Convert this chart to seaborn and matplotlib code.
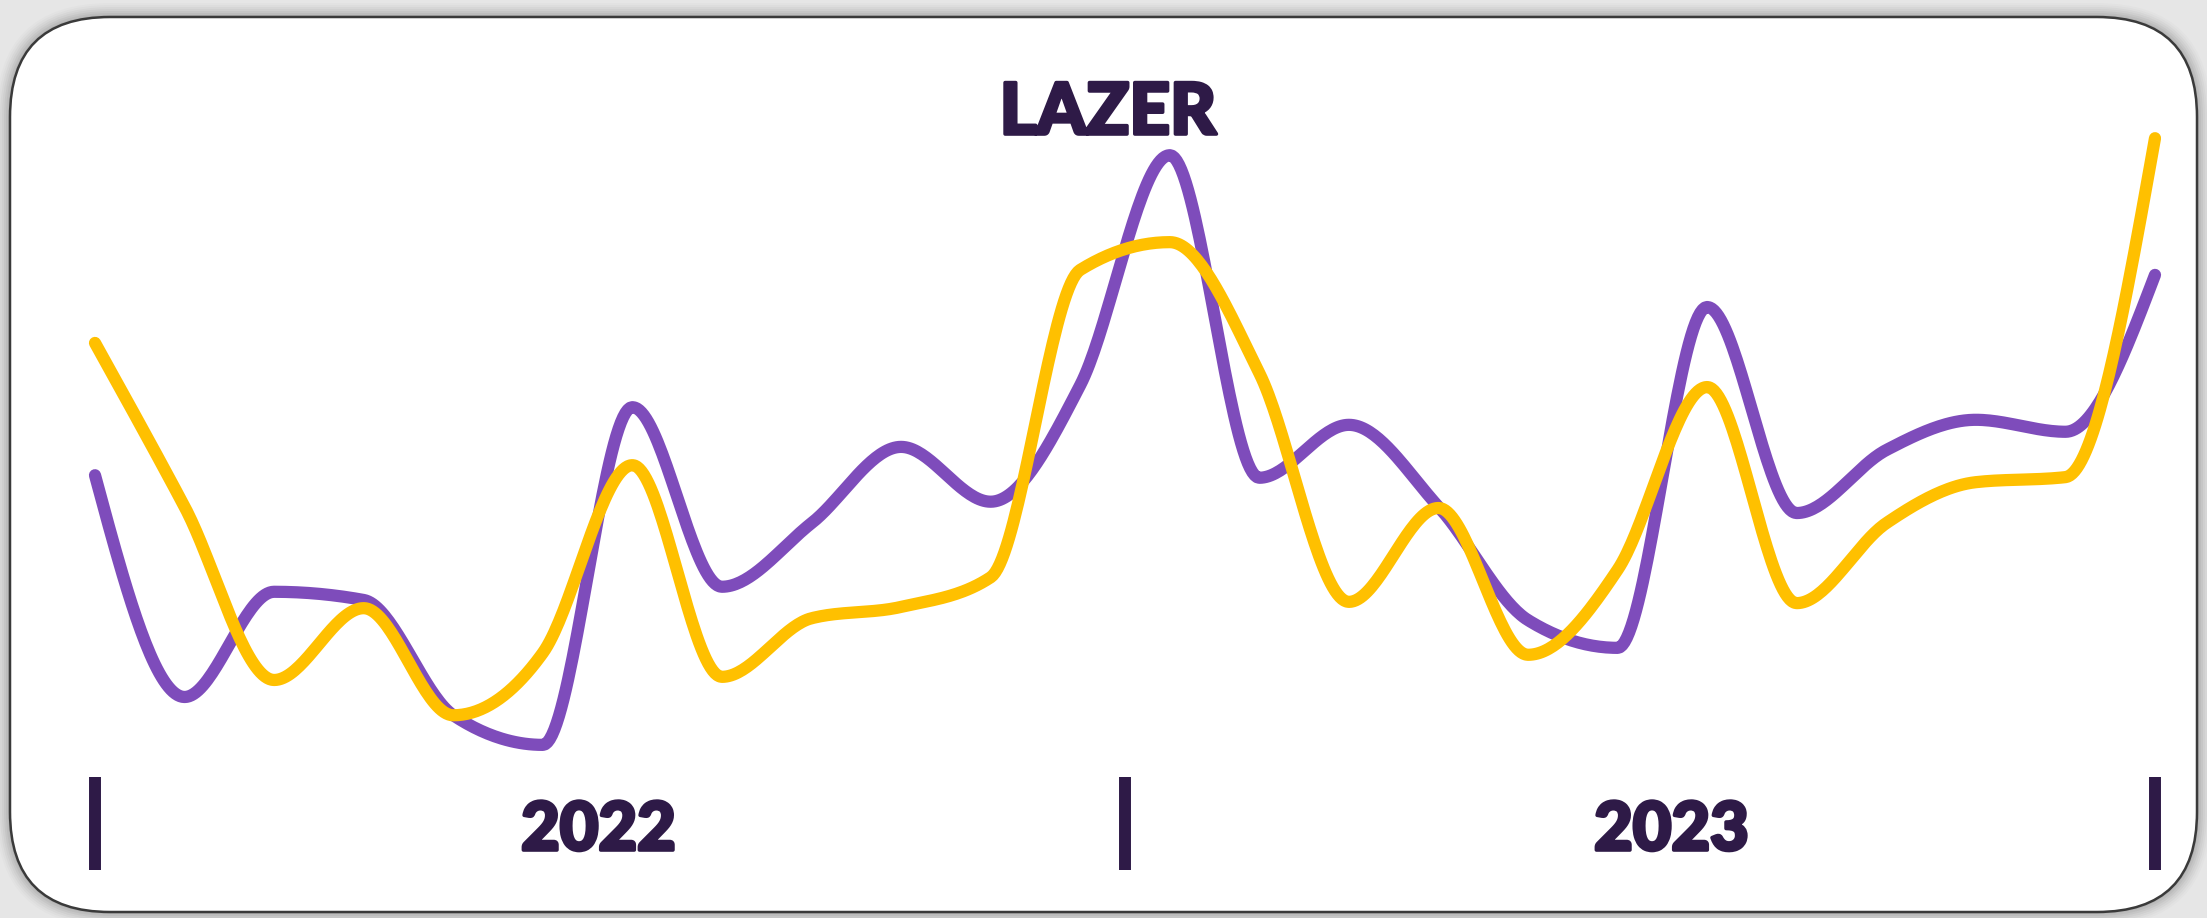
"""Lazer trend card."""

import matplotlib

matplotlib.use("Agg")
import matplotlib.patheffects as pe
import matplotlib.pyplot as plt
import numpy as np
import pandas as pd
import seaborn as sns
from matplotlib.patches import FancyBboxPatch
from matplotlib.transforms import IdentityTransform

TITLE = "LAZER"
YEAR_LABELS = ["2022", "2023"]
MONTHS = pd.date_range("2022-01-01", periods=24, freq="MS")

# values (arbitrary index, no y axis shown)
purple_vals = [45.2, 10.0, 26.7, 25.4, 7.1, 2.4, 56.0, 27.5, 37.6, 49.7, 41.0, 59.5,
               96.0, 44.8, 53.2, 40.2, 22.2, 17.8, 71.9, 39.2, 49.2, 54.0, 52.1, 77.0]
yellow_vals = [66.2, 40.2, 12.7, 24.1, 7.1, 17.0, 46.8, 13.2, 22.5, 24.3, 29.0, 77.8,
               82.2, 61.4, 25.1, 40.0, 16.7, 30.2, 59.2, 24.9, 37.6, 44.1, 44.9, 98.7]

PURPLE = "#7E4CBB"
YELLOW = "#FFC000"
DARK = "#2E1A47"

W, H, DPI = 2207, 918, 100


def monotone_x(x, y, n=40):
    """Monotone cubic interpolation (same rule as d3 curveMonotoneX)."""
    x = np.asarray(x, float)
    y = np.asarray(y, float)
    h = np.diff(x)
    s = np.diff(y) / h
    t = np.zeros_like(y)
    for i in range(1, len(x) - 1):
        p = (s[i - 1] * h[i] + s[i] * h[i - 1]) / (h[i - 1] + h[i])
        t[i] = (np.sign(s[i - 1]) + np.sign(s[i])) * min(abs(s[i - 1]), abs(s[i]), 0.5 * abs(p))
    t[0] = (3 * s[0] - t[1]) / 2
    t[-1] = (3 * s[-1] - t[-2]) / 2
    xs, ys = [], []
    u = np.linspace(0, 1, n)
    for i in range(len(x) - 1):
        h00 = 2 * u**3 - 3 * u**2 + 1
        h10 = u**3 - 2 * u**2 + u
        h01 = -2 * u**3 + 3 * u**2
        h11 = u**3 - u**2
        xs.append(x[i] + u * h[i])
        ys.append(h00 * y[i] + h10 * h[i] * t[i] + h01 * y[i + 1] + h11 * h[i] * t[i + 1])
    return np.concatenate(xs), np.concatenate(ys)


sns.set_theme(style="white")
plt.rcParams["font.family"] = ["Lato", "DejaVu Sans"]

fig = plt.figure(figsize=(W / DPI, H / DPI), dpi=DPI)
fig.patch.set_facecolor("#e6e6e6")

# card: soft shadow + white rounded box (pixel coordinates)
for k, a in zip(range(14, 0, -2), np.linspace(0.015, 0.05, 7)):
    fig.patches.append(FancyBboxPatch(
        (10 - k, 6 - k), 2187 + 2 * k, 895 + 2 * k,
        boxstyle=f"round,pad=0,rounding_size={100 + k}",
        transform=IdentityTransform(), facecolor="black", edgecolor="none",
        alpha=a, zorder=0))
fig.patches.append(FancyBboxPatch(
    (10, 6), 2187, 895, boxstyle="round,pad=0,rounding_size=100",
    transform=IdentityTransform(), facecolor="white", edgecolor="#3a3a3a",
    linewidth=1.8, zorder=1))

ax = fig.add_axes([0, 0, 1, 1])
ax.patch.set_alpha(0)
ax.set_zorder(2)
step, x0, y0, scale = 89.565, 95, 760, 6.3
ax.set_xlim(-x0 / step, (W - x0) / step)
ax.set_ylim((y0 - H) / scale, y0 / scale)
ax.axis("off")

idx = np.arange(len(MONTHS))
for vals, color in [(purple_vals, PURPLE), (yellow_vals, YELLOW)]:
    cx, cy = monotone_x(idx, vals)
    df = pd.DataFrame({"x": cx, "y": cy})
    sns.lineplot(data=df, x="x", y="y", ax=ax, color=color, linewidth=8.8,
                 sort=False, estimator=None, solid_capstyle="round",
                 solid_joinstyle="round")

heavy = [pe.withStroke(linewidth=2.6, foreground=DARK)]

# year separators at start, middle and end of the series
first, last = idx[0], idx[-1]
mid = (first + last) / 2
ax.vlines([first, mid, last], (y0 - 870) / scale, (y0 - 777) / scale,
          color=DARK, linewidth=8.6, capstyle="butt")
for label, xc in zip(YEAR_LABELS, [(first + mid) / 2 - 0.13, (mid + last) / 2 + 0.35]):
    ax.text(xc, (y0 - 850) / scale, label, ha="center", va="baseline",
            fontsize=48, fontweight="black", color=DARK, path_effects=heavy)

fig.text(0.502, 1 - 134 / H, TITLE, ha="center", va="baseline",
         fontsize=51, fontweight="black", color=DARK, path_effects=heavy)

fig.savefig("out.png", dpi=DPI, facecolor=fig.get_facecolor())
plt.close(fig)
